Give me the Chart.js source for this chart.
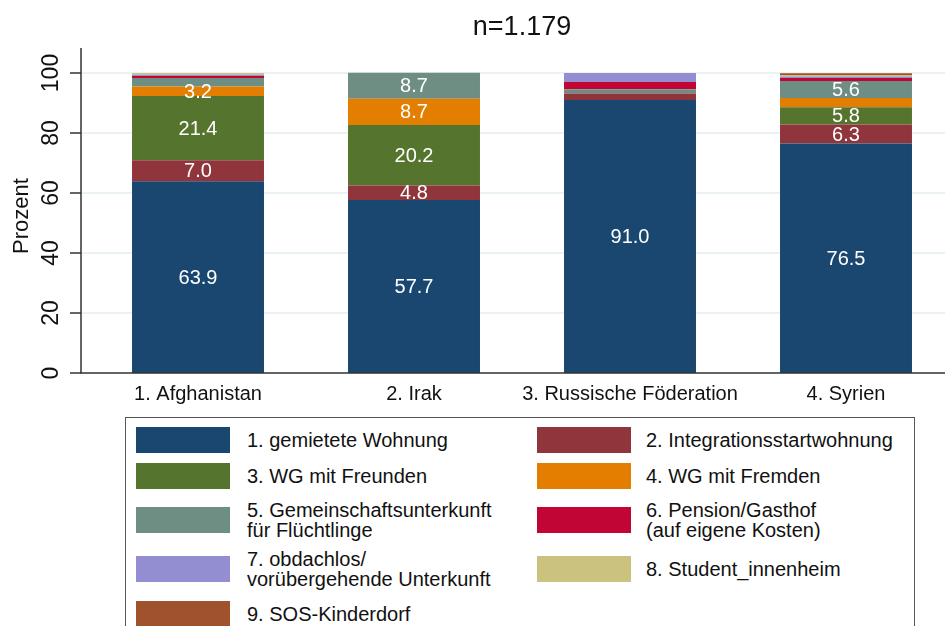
<!DOCTYPE html>
<html>
<head>
<meta charset="utf-8">
<script src="https://cdn.jsdelivr.net/npm/chart.js@4.4.1/dist/chart.umd.min.js"></script>
<style>
  html, body { margin: 0; padding: 0; background: #fff; overflow: hidden; width: 945px; height: 626px; }
  #wrap { position: relative; width: 954px; height: 626px; }
  #chart { position: absolute; left: 0; top: 0; }
  #legend {
    position: absolute; left: 125px; top: 417px; width: 790px; height: 240px;
    border: 1px solid #555; box-sizing: border-box;
    font-family: "Liberation Sans", Arial, sans-serif; font-size: 20px; line-height: 20px; color: #111;
  }
  #legend .grid {
    position: absolute; left: 10px; top: 4px;
    display: grid; grid-template-columns: 401px 370px;
    grid-template-rows: 36px 36px 51px 48px 42px;
  }
  #legend .item { display: flex; align-items: center; white-space: nowrap; }
  #legend .sw { width: 94px; height: 26px; flex: none; margin-right: 17px; }
  #legend .item.c2 .sw { margin-right: 15px; }
</style>
</head>
<body>
<div id="wrap">
  <canvas id="chart" width="954" height="410"></canvas>
  <div id="legend"><div class="grid" id="legendGrid"></div></div>
</div>
<script>
// Wohnform nach Herkunftsland (Anteile in Prozent)
const chartTitle = 'n=1.179';
const yTitle = 'Prozent';
const categories = ['1. Afghanistan', '2. Irak', '3. Russische Föderation', '4. Syrien'];
const yTicks = [0, 20, 40, 60, 80, 100];

const seriesNames = [
  ['1. gemietete Wohnung'],
  ['2. Integrationsstartwohnung'],
  ['3. WG mit Freunden'],
  ['4. WG mit Fremden'],
  ['5. Gemeinschaftsunterkunft', 'für Flüchtlinge'],
  ['6. Pension/Gasthof', '(auf eigene Kosten)'],
  ['7. obdachlos/', 'vorübergehende Unterkunft'],
  ['8. Student_innenheim'],
  ['9. SOS-Kinderdorf']
];
const seriesColors = ['#1a476f', '#90353b', '#55752f', '#e37e00', '#6e8e84', '#c10534', '#938dd2', '#cac27e', '#a0522d'];

const gemieteteWohnung      = [63.9, 57.7, 91.0, 76.5];
const integrationsstart     = [7.0, 4.8, 2.2, 6.3];
const wgFreunde             = [21.4, 20.2, 0, 5.8];
const wgFremde              = [3.2, 8.7, 0, 3.1];
const gemeinschaftsunterk   = [2.8, 8.7, 1.4, 5.6];
const pensionGasthof        = [0.7, 0, 2.4, 1.0];
const obdachlos             = [0.4, 0, 3.0, 0.5];
const studentInnenheim      = [0.6, 0, 0, 0.5];
const sosKinderdorf         = [0, 0, 0, 0.6];

const seriesValues = [gemieteteWohnung, integrationsstart, wgFreunde, wgFremde,
  gemeinschaftsunterk, pensionGasthof, obdachlos, studentInnenheim, sosKinderdorf];

// segments this large get their value printed inside
const labelMin = 3.2;

const FONT = '"Liberation Sans", Arial, sans-serif';
const AXIS_X = 81;
const AXIS_TOP = 48;

const axesAndLabels = {
  id: 'axesAndLabels',
  beforeDatasetsDraw(chart) {
    const { ctx, scales: { y }, chartArea: a } = chart;
    ctx.save();
    ctx.strokeStyle = '#e4eef0';
    ctx.lineWidth = 1.5;
    yTicks.forEach(v => {
      if (v === 0) return;
      const py = y.getPixelForValue(v);
      ctx.beginPath(); ctx.moveTo(AXIS_X, py); ctx.lineTo(a.right, py); ctx.stroke();
    });
    ctx.restore();
  },
  afterDatasetsDraw(chart) {
    const { ctx, scales: { y }, chartArea: a } = chart;
    ctx.save();
    // values inside segments
    ctx.fillStyle = '#fff';
    ctx.font = '20px ' + FONT;
    ctx.textAlign = 'center';
    ctx.textBaseline = 'middle';
    chart.data.datasets.forEach((ds, i) => {
      const meta = chart.getDatasetMeta(i);
      meta.data.forEach((bar, j) => {
        const v = ds.data[j];
        if (v >= labelMin) ctx.fillText(v.toFixed(1), bar.x, (bar.y + bar.base) / 2 + 1);
      });
    });

    // axis lines and ticks
    ctx.strokeStyle = '#333';
    ctx.lineWidth = 1.5;
    ctx.beginPath();
    ctx.moveTo(AXIS_X, AXIS_TOP); ctx.lineTo(AXIS_X, a.bottom);
    ctx.moveTo(AXIS_X - 1, a.bottom); ctx.lineTo(a.right, a.bottom);
    ctx.stroke();
    ctx.fillStyle = '#111';
    ctx.font = '23px ' + FONT;
    yTicks.forEach(v => {
      const py = y.getPixelForValue(v);
      ctx.beginPath(); ctx.moveTo(AXIS_X - 11, py); ctx.lineTo(AXIS_X, py); ctx.stroke();
      ctx.save();
      ctx.translate(52, py);
      ctx.rotate(-Math.PI / 2);
      ctx.fillText(String(v), 0, 0);
      ctx.restore();
    });

    // axis title
    ctx.save();
    ctx.font = '22px ' + FONT;
    ctx.translate(22, 216);
    ctx.rotate(-Math.PI / 2);
    ctx.fillText(yTitle, 0, 0);
    ctx.restore();

    // chart title
    ctx.font = '27px ' + FONT;
    ctx.fillText(chartTitle, (a.left + a.right) / 2, 28);
    ctx.restore();
  }
};

new Chart(document.getElementById('chart'), {
  type: 'bar',
  data: {
    labels: categories,
    datasets: seriesNames.map((name, i) => ({
      label: name.join(' '),
      data: seriesValues[i],
      backgroundColor: seriesColors[i],
      borderWidth: 0,
      categoryPercentage: 1,
      barPercentage: 0.611
    }))
  },
  options: {
    responsive: false,
    animation: false,
    devicePixelRatio: 1,
    layout: { padding: { left: 90, right: 0, top: AXIS_TOP, bottom: 0 } },
    plugins: { legend: { display: false }, tooltip: { enabled: false }, title: { display: false } },
    scales: {
      x: {
        stacked: true,
        offset: true,
        grid: { display: false },
        border: { display: false },
        ticks: { color: '#111', font: { family: FONT, size: 20 }, padding: 1, maxRotation: 0, autoSkip: false },
        afterFit(s) { s.height = 37; }
      },
      y: { stacked: true, display: false, min: 0, max: 108.33 }
    }
  },
  plugins: [axesAndLabels]
});

// legend, two columns, filled row by row
const grid = document.getElementById('legendGrid');
seriesNames.forEach((lines, i) => {
  const item = document.createElement('div');
  item.className = 'item' + (i % 2 ? ' c2' : '');
  const sw = document.createElement('div');
  sw.className = 'sw';
  sw.style.background = seriesColors[i];
  const txt = document.createElement('div');
  lines.forEach((l, k) => {
    if (k) txt.appendChild(document.createElement('br'));
    txt.appendChild(document.createTextNode(l));
  });
  item.appendChild(sw);
  item.appendChild(txt);
  grid.appendChild(item);
});
</script>
</body>
</html>
